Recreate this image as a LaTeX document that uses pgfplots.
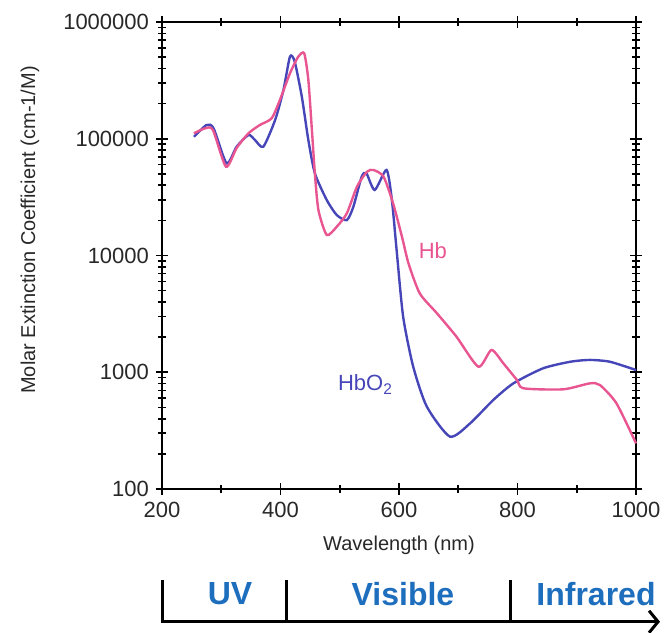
\documentclass[border=0pt]{standalone}
\usepackage{fontspec}
\setmainfont{Liberation Sans}
\usepackage{pgfplots}
\pgfplotsset{compat=1.18}
\usetikzlibrary{arrows.meta}

\definecolor{hbo}{RGB}{70,70,185}
\definecolor{hb}{RGB}{232,85,145}
\definecolor{band}{RGB}{30,110,190}
\definecolor{txt}{RGB}{40,40,40}

% HbO2
\pgfplotstableread{
nm eps
254 104000
275 131000
287 123000
309 61600
326 85500
346 107700
357 97500
371 85500
391 145000
405 262000
416 505000
424 457000
436 229000
447 97500
458 50600
478 29900
495 22200
512 20100
523 26200
537 47300
545 50600
559 36400
579 54000
588 29900
596 11100
607 2990
624 1115
647 507
686 281
720 365
759 578
793 803
843 1080
889 1230
922 1275
956 1230
1000 1045
}\hbotab

% Hb
\pgfplotstableread{
nm eps
254 111400
273 123000
286 118800
308 57600
326 83400
346 111400
365 131000
385 149600
399 214800
416 363600
430 505000
440 539000
447 318700
453 118800
458 50600
464 24500
478 15000
495 17650
512 23000
529 38800
546 52200
557 54000
574 47300
590 28000
605 14500
616 8570
635 4740
664 3200
697 2017
734 1115
756 1552
776 1194
799 859
810 729
877 714
922 803
939 778
967 542
1000 246
}\hbtab

\begin{document}
\begin{tikzpicture}
\useasboundingbox (-81pt,-71.5pt) rectangle (253pt,244.5pt);
\begin{axis}[
    at={(0,0)}, anchor=south west,
    scale only axis,
    width=237pt, height=233.5pt,
    ymode=log,
    xmin=200, xmax=1000,
    ymin=100, ymax=1000000,
    xtick={200,400,600,800,1000},
    xticklabels={200,400,600,800,1000},
    minor x tick num=1,
    ytick={100,1000,10000,100000,1000000},
    yticklabels={100,1000,10000,100000,1000000},
    tick align=center,
    major tick length=6pt,
    minor tick length=4pt,
    every tick/.style={black, line width=0.8pt},
    axis line style={line width=1pt},
    ticklabel style={font=\fontsize{11}{13}\selectfont, text=txt},
    xlabel={Wavelength (nm)},
    ylabel={Molar Extinction Coefficient (cm-1/M)},
    label style={font=\fontsize{10}{12}\selectfont, text=txt},
    xlabel style={at={(rel axis cs:0.5,-0.12)}, anchor=center},
    ylabel style={at={(rel axis cs:-0.2785,0.5546)}, anchor=center, rotate=0},
    clip=false,
]
\addplot[hbo, line width=1.2pt, smooth, tension=0.4] table[x=nm, y=eps] {\hbotab};
\addplot[hb, line width=1.2pt, smooth, tension=0.4] table[x=nm, y=eps] {\hbtab};

\node[anchor=base west, text=hb, font=\fontsize{11}{13}\selectfont] at (rel axis cs:0.527,0.4946) {Hb};
\node[anchor=base west, text=hbo, font=\fontsize{11}{13}\selectfont] at (rel axis cs:0.3565,0.2099) {HbO\textsubscript{2}};

% spectral bands underneath
\draw[line width=1.5pt, -{Straight Barb[length=4.5pt,width=11pt]}]
    (rel axis cs:0.0015,-0.1949) -- (rel axis cs:0.0015,-0.2842) -- (rel axis cs:1.0506,-0.2842);
\draw[line width=1.5pt] (rel axis cs:0.263,-0.1949) -- (rel axis cs:0.263,-0.2842);
\draw[line width=1.5pt] (rel axis cs:0.7357,-0.1949) -- (rel axis cs:0.7357,-0.2842);
\node[text=band, font=\bfseries\fontsize{16}{19}\selectfont] at (rel axis cs:0.1435,-0.2248) {UV};
\node[text=band, font=\bfseries\fontsize{16}{19}\selectfont] at (rel axis cs:0.5084,-0.2248) {Visible};
\node[text=band, font=\bfseries\fontsize{16}{19}\selectfont] at (rel axis cs:0.9156,-0.2248) {Infrared};
\end{axis}
\end{tikzpicture}
\end{document}
